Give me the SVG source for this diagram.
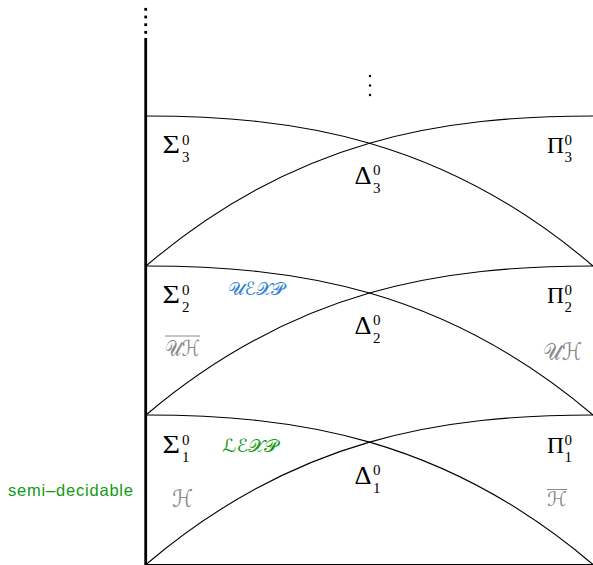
<svg xmlns="http://www.w3.org/2000/svg" width="593" height="565" viewBox="0 0 593 565">
<style>
.c{fill:none;stroke:#000;stroke-width:1.1}
.m{font-family:"Liberation Serif","DejaVu Serif",serif;font-size:26px;fill:#000}
.p{font-family:"Liberation Serif","DejaVu Serif",serif;font-size:23.5px;fill:#000}
.s{font-family:"Liberation Serif","DejaVu Serif",serif;font-size:15px;fill:#000}
.cal{font-family:"DejaVu Sans","Noto Sans",serif;font-style:normal}
.g{fill:#8a8a8a}
.blue{fill:#3382d0}
.green{fill:#129a12}
</style>
<rect width="593" height="565" fill="#fff"/>
<g id="connectors">
<line x1="145.7" y1="38" x2="145.7" y2="565" stroke="#000" stroke-width="2.8"/>
<g fill="#000">
<rect x="144.3" y="7.9" width="2.8" height="2.8"/>
<rect x="144.3" y="15.6" width="2.8" height="2.8"/>
<rect x="144.3" y="23.3" width="2.8" height="2.8"/>
<rect x="144.3" y="30.9" width="2.8" height="2.8"/>
</g>
<path class="c" d="M146,116 C295,116 444,138.5 593,266"/>
<path class="c" d="M146,266 C295,138.5 444,116 593,116"/>
<path class="c" d="M146,266 C295,266 444,288.5 593,415"/>
<path class="c" d="M146,415 C295,288.5 444,266 593,266"/>
<path class="c" d="M146,415 C295,415 444,437.5 593,564.5"/>
<path class="c" d="M146,564.5 C295,437.5 444,415 593,415"/>
<line class="c" x1="146" y1="564.5" x2="593" y2="564.5"/>
</g>
<g id="vdots" fill="#000">
<circle cx="370" cy="76" r="1.2"/>
<circle cx="370" cy="85.5" r="1.2"/>
<circle cx="370" cy="95" r="1.2"/>
</g>
<g id="sigma3"><text class="m" x="162.5" y="153" textLength="17.5" lengthAdjust="spacingAndGlyphs">Σ</text><text class="s" x="182" y="144.5">0</text><text class="s" x="182" y="162">3</text></g>
<g id="pi3"><text class="p" x="547" y="153">Π</text><text class="s" x="564.5" y="144.5">0</text><text class="s" x="564.5" y="162">3</text></g>
<g id="delta3"><text class="m" x="354.5" y="184" textLength="17" lengthAdjust="spacingAndGlyphs">Δ</text><text class="s" x="373" y="175">0</text><text class="s" x="373" y="192.5">3</text></g>
<g id="sigma2"><text class="m" x="162.5" y="303" textLength="17.5" lengthAdjust="spacingAndGlyphs">Σ</text><text class="s" x="182" y="294.5">0</text><text class="s" x="182" y="312">2</text></g>
<g id="pi2"><text class="p" x="547" y="303">Π</text><text class="s" x="564.5" y="294.5">0</text><text class="s" x="564.5" y="312">2</text></g>
<g id="delta2"><text class="m" x="354.5" y="334" textLength="17" lengthAdjust="spacingAndGlyphs">Δ</text><text class="s" x="373" y="325">0</text><text class="s" x="373" y="342.5">2</text></g>
<g id="sigma1"><text class="m" x="162.5" y="453" textLength="17.5" lengthAdjust="spacingAndGlyphs">Σ</text><text class="s" x="182" y="444.5">0</text><text class="s" x="182" y="462">1</text></g>
<g id="pi1"><text class="p" x="547" y="453">Π</text><text class="s" x="564.5" y="444.5">0</text><text class="s" x="564.5" y="462">1</text></g>
<g id="delta1"><text class="m" x="354.5" y="484" textLength="17" lengthAdjust="spacingAndGlyphs">Δ</text><text class="s" x="373" y="475">0</text><text class="s" x="373" y="492.5">1</text></g>
<g id="uexp"><text class="cal blue" x="228" y="295" style="font-size:18px" textLength="57" lengthAdjust="spacingAndGlyphs">𝒰ℰ𝒳𝒫</text></g>
<g id="lexp"><text class="cal green" x="222.5" y="452" style="font-size:18px" textLength="56" lengthAdjust="spacingAndGlyphs">ℒℰ𝒳𝒫</text></g>
<g id="coUH"><text class="cal g" x="165" y="356" style="font-size:22px" textLength="35" lengthAdjust="spacingAndGlyphs">𝒰ℋ</text><line x1="165" y1="336" x2="200" y2="336" stroke="#8a8a8a" stroke-width="1"/></g>
<g id="UH"><text class="cal g" x="543" y="360" style="font-size:24px" textLength="39" lengthAdjust="spacingAndGlyphs">𝒰ℋ</text></g>
<g id="H"><text class="cal g" x="172" y="507" style="font-size:24px" textLength="21" lengthAdjust="spacingAndGlyphs">ℋ</text></g>
<g id="coH"><text class="cal g" x="547" y="505.5" style="font-size:20px" textLength="20" lengthAdjust="spacingAndGlyphs">ℋ</text><line x1="547" y1="489.5" x2="567" y2="489.5" stroke="#8a8a8a" stroke-width="1"/></g>
<g id="semidec"><text x="8" y="496" font-family="Liberation Sans, Arial, sans-serif" font-size="16.5" textLength="125" class="green">semi–decidable</text></g>
</svg>
